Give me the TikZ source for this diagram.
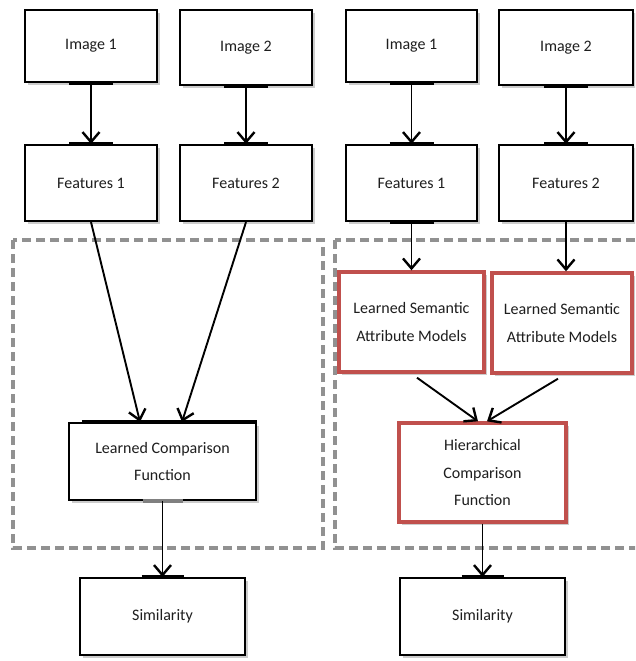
\documentclass[tikz,border=0pt]{standalone}
\usepackage{fontspec}
\setmainfont{Carlito}
\usetikzlibrary{arrows.meta,shadows}
\definecolor{redb}{RGB}{192,80,77}
\definecolor{dashg}{RGB}{145,145,145}
\definecolor{txt}{RGB}{30,30,30}
\begin{document}
\begin{tikzpicture}[x=1pt,y=-1pt,
  box/.style={draw=black,line width=2.2pt,fill=white,rectangle,align=center,
    text=txt,font=\fontsize{16}{27.5}\selectfont,inner sep=0pt,
    drop shadow={opacity=0.4,shadow xshift=2.5pt,shadow yshift=-3pt}},
  redbox/.style={box,draw=redb,line width=3.4pt},
  conn/.style={line width=1.9pt,-{Straight Barb[length=10pt,width=17pt,line width=2.4pt]}},
  port/.style={line width=4.5pt},
  grp/.style={draw=dashg,line width=3.2pt,dash pattern=on 9pt off 5pt}]
\clip (0,0) rectangle (635,661);
\fill[white] (0,0) rectangle (635,661);
% group frames
\draw[grp] (13,240) rectangle (323,548);
\draw[grp] (335,240) rectangle (660,548);
% left column
\node[box,minimum width=132pt,minimum height=72pt] (li1) at (91,46) {Image 1};
\node[box,minimum width=132pt,minimum height=75pt] (li2) at (246,47.5) {Image 2};
\node[box,minimum width=132pt,minimum height=76pt] (lf1) at (91,183) {Features 1};
\node[box,minimum width=132pt,minimum height=76pt] (lf2) at (246,183) {Features 2};
\node[box,minimum width=187pt,minimum height=77pt] (cmp) at (162.5,461.5) {Learned Comparison\\Function};
\node[box,minimum width=165pt,minimum height=77pt] (ls) at (162.5,616.5) {Similarity};
% right column
\node[box,minimum width=131pt,minimum height=72pt] (ri1) at (411.5,46) {Image 1};
\node[box,minimum width=134pt,minimum height=75pt] (ri2) at (566,47.5) {Image 2};
\node[box,minimum width=131pt,minimum height=76pt] (rf1) at (411.5,183) {Features 1};
\node[box,minimum width=134pt,minimum height=76pt] (rf2) at (566,183) {Features 2};
\node[redbox,minimum width=145pt,minimum height=100pt] (sa1) at (411.5,322) {Learned Semantic\\Attribute Models};
\node[redbox,minimum width=140pt,minimum height=100pt] (sa2) at (562,323) {Learned Semantic\\Attribute Models};
\node[redbox,minimum width=167pt,minimum height=99pt] (hc) at (482.5,472.5) {Hierarchical\\Comparison\\Function};
\node[box,minimum width=165pt,minimum height=77pt] (rs) at (482.5,616.5) {Similarity};
% ports
\draw[port] ([xshift=-22pt]li1.south) -- ([xshift=22pt]li1.south);
\draw[port] ([xshift=-22pt]lf1.north) -- ([xshift=22pt]lf1.north);
\draw[port] ([xshift=-22pt]li2.south) -- ([xshift=22pt]li2.south);
\draw[port] ([xshift=-22pt]lf2.north) -- ([xshift=22pt]lf2.north);
\draw[port] ([xshift=-22pt]ri1.south) -- ([xshift=22pt]ri1.south);
\draw[port] ([xshift=-22pt]rf1.north) -- ([xshift=22pt]rf1.north);
\draw[port] ([xshift=-22pt]rf1.south) -- ([xshift=22pt]rf1.south);
\draw[port] ([xshift=-22pt]ri2.south) -- ([xshift=22pt]ri2.south);
\draw[port] ([xshift=-22pt]rf2.north) -- ([xshift=22pt]rf2.north);
\draw[port] ([xshift=14pt]cmp.north west) -- (cmp.north east);
\draw[port,gray] ([xshift=-20pt]cmp.south) -- ([xshift=20pt]cmp.south);
\draw[port] ([xshift=-21pt]ls.north) -- ([xshift=21pt]ls.north);
\draw[port] ([xshift=-21pt]rs.north) -- ([xshift=21pt]rs.north);
% connectors
\draw[conn] (li1.south) -- (lf1.north);
\draw[conn] (li2.south) -- (lf2.north);
\draw[conn] (ri1.south) -- (rf1.north);
\draw[conn] (ri2.south) -- (rf2.north);
\draw[conn] (lf1.south) -- ([xshift=-22.5pt]cmp.north);
\draw[conn] (lf2.south) -- ([xshift=19.5pt]cmp.north);
\draw[conn] (cmp.south) -- (ls.north);
\draw[conn] (rf1.south) -- (sa1.north);
\draw[conn] (rf2.south) -- ([xshift=4pt]sa2.north);
\draw[conn] ([xshift=5.5pt,yshift=-4pt]sa1.south) -- ([xshift=-4.5pt]hc.north);
\draw[conn] ([xshift=-4pt,yshift=-4pt]sa2.south) -- ([xshift=4.5pt]hc.north);
\draw[conn] (hc.south) -- (rs.north);
\end{tikzpicture}
\end{document}
